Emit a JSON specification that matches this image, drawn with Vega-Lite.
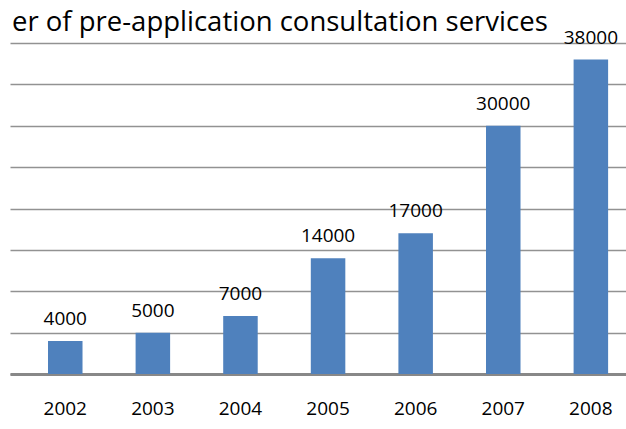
{
  "$schema": "https://vega.github.io/schema/vega-lite/v6.json",
  "width": 616,
  "height": 331,
  "autosize": {"type": "none"},
  "padding": {"left": 10, "top": 43, "right": 0, "bottom": 55},
  "title": {
    "text": "er of pre-application consultation services",
    "anchor": "start",
    "font": "Open Sans",
    "fontSize": 27.5,
    "fontWeight": "normal",
    "color": "black",
    "baseline": "bottom",
    "offset": -36,
    "dx": 2
  },
  "config": {"view": {"stroke": null}, "font": "Open Sans"},
  "data": {
    "values": [
      {"year": "2002", "value": 4000},
      {"year": "2003", "value": 5000},
      {"year": "2004", "value": 7000},
      {"year": "2005", "value": 14000},
      {"year": "2006", "value": 17000},
      {"year": "2007", "value": 30000},
      {"year": "2008", "value": 38000}
    ]
  },
  "encoding": {
    "x": {
      "field": "year",
      "type": "ordinal",
      "scale": {"paddingInner": 0.606, "paddingOuter": 0.319, "align": 0.68},
      "axis": {
        "title": null,
        "labelAngle": 0,
        "ticks": false,
        "domainColor": "#888888",
        "domainWidth": 3,
        "labelFontSize": 19,
        "labelColor": "black",
        "labelPadding": 25,
        "labelFont": "Open Sans"
      }
    },
    "y": {
      "field": "value",
      "type": "quantitative",
      "scale": {"domain": [0, 40000], "nice": false},
      "axis": {
        "title": null,
        "labels": false,
        "ticks": false,
        "domain": false,
        "values": [0, 5000, 10000, 15000, 20000, 25000, 30000, 35000, 40000],
        "gridColor": "#929292",
        "gridWidth": 1.7
      }
    }
  },
  "layer": [
    {"mark": {"type": "bar", "color": "#4F81BD"}},
    {
      "mark": {"type": "text", "dy": -22, "baseline": "middle", "fontSize": 19, "font": "Open Sans", "color": "black"},
      "encoding": {"text": {"field": "value", "type": "quantitative", "format": "d"}}
    }
  ]
}
